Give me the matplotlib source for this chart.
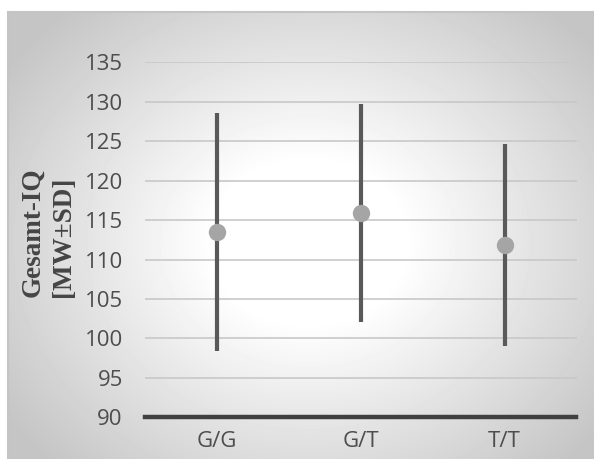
import numpy as np
import matplotlib.pyplot as plt

genotypes = ["G/G", "G/T", "T/T"]
iq_mean = [113.5, 115.9, 111.9]
iq_sd = [15.1, 13.8, 12.8]
y_ticks = [90, 95, 100, 105, 110, 115, 120, 125, 130, 135]

W, H = 594, 459
fig = plt.figure(figsize=(W / 100, H / 100), dpi=100)
fig.patch.set_facecolor("white")

# radial gradient background of the chart area
bg = fig.add_axes([8 / W, 0, (W - 8) / W, (H - 12) / H], zorder=0)
yy, xx = np.mgrid[0:447, 0:586]
cx, cy = 300, 230
r = np.sqrt(((xx - cx) / 320.0) ** 2 + ((yy - cy) / 270.0) ** 2)
t = np.clip((r - 0.3) / 0.85, 0, 1)
shade = 1.0 - t * (1.0 - 0.77)
bg.imshow(shade, cmap="gray", vmin=0, vmax=1, aspect="auto",
          extent=[0, 1, 0, 1], interpolation="bilinear")
bg.plot([0, 0], [0, 1], color="#c4c4c4", lw=1.5, transform=bg.transAxes, clip_on=False)
bg.plot([0, 1], [1, 1], color="#c4c4c4", lw=1.5, transform=bg.transAxes, clip_on=False)
bg.set_xlim(0, 1)
bg.set_ylim(0, 1)
bg.axis("off")

ax = fig.add_axes([145 / W, 1 - 417.3 / H, 431.5 / W, 355 / H], zorder=1)
ax.patch.set_alpha(0)
x = np.arange(len(genotypes))

for yv in y_ticks[1:]:
    ax.axhline(yv, color="#c8c8c8", lw=1.2, zorder=1)

ax.errorbar(x, iq_mean, yerr=iq_sd, fmt="none", ecolor="#595959",
            elinewidth=3, capsize=0, zorder=2)
ax.plot(x, iq_mean, "o", color="#a5a5a5", markersize=11.5, zorder=3)

ax.set_xlim(-0.5, len(genotypes) - 0.5)
ax.set_ylim(90, 135)
ax.set_yticks(y_ticks)
ax.set_xticks(x)
ax.set_xticklabels(genotypes)
for s in ["top", "right", "left"]:
    ax.spines[s].set_visible(False)
ax.spines["bottom"].set_color("#404040")
ax.spines["bottom"].set_linewidth(3.2)
ax.tick_params(axis="both", length=0, colors="#4d4d4d", labelsize=16)
ax.tick_params(axis="y", pad=16)
ax.tick_params(axis="x", pad=10)
for lab in ax.get_xticklabels() + ax.get_yticklabels():
    lab.set_fontfamily("Open Sans")

fig.text(33 / W, 1 - 297 / H, "Gesamt-IQ", rotation=90, ha="center", va="bottom",
         fontsize=19.5, fontweight="bold", family="Liberation Serif", color="#454545")
fig.text(63 / W, 1 - 297 / H, "[MW±SD]", rotation=90, ha="center", va="bottom",
         fontsize=19.5, fontweight="bold", family="Liberation Serif", color="#454545")

fig.savefig("out.png", dpi=100)
